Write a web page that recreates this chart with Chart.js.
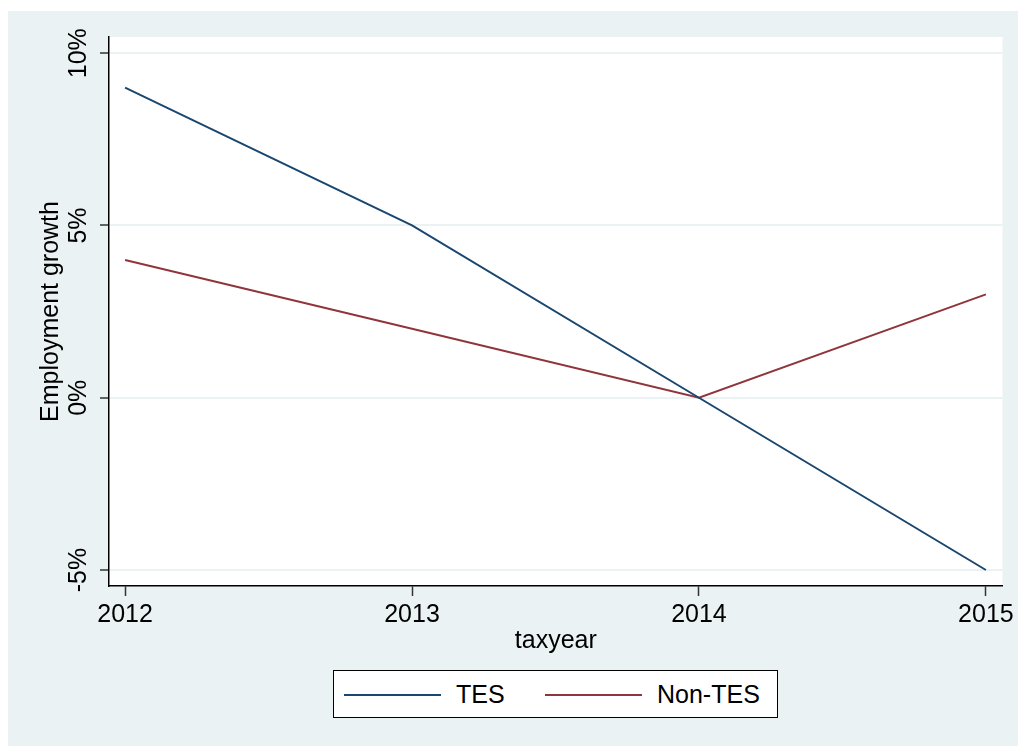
<!DOCTYPE html>
<html>
<head>
<meta charset="utf-8">
<script src="https://cdn.jsdelivr.net/npm/chart.js@4/dist/chart.umd.min.js"></script>
<style>
    body { margin: 0; background: #fff; font-family: "Liberation Sans", Arial, sans-serif; }
    #panel { position: absolute; left: 8px; top: 11px; right: 0; bottom: 0; background: #eaf2f3; }
    #chart { position: absolute; left: 0; top: 0; }
    #legend {
        position: absolute; left: 333px; top: 670px; width: 445px; height: 48px;
        box-sizing: border-box; border: 1px solid #000; background: #fff;
    }
    #legend .swatch { position: absolute; top: 23px; height: 2px; }
    #legend .label { position: absolute; top: 9px; font-size: 25px; line-height: 28px; color: #000; }
</style>
</head>
<body>
<div id="panel"></div>
<canvas id="chart" width="1018" height="746"></canvas>
<div id="legend"></div>
<script>
// Dados
const years = [2012, 2013, 2014, 2015];
const tes = [9, 5, 0, -5];
const nonTes = [4, 2, 0, 3];
const yTicks = [-5, 0, 5, 10];
const seriesNames = ["TES", "Non-TES"];
const seriesColors = ["#1a476f", "#90353b"];

const FONT = '"Liberation Sans", Arial, sans-serif';

// Fundo branco da área do gráfico
const plotBg = {
    id: "plotBg",
    beforeDraw(chart) {
        const { ctx, chartArea: a } = chart;
        ctx.save();
        ctx.fillStyle = "#fff";
        ctx.fillRect(a.left, a.top, a.right - a.left, a.bottom - a.top);
        ctx.restore();
    }
};

const ctx = document.getElementById("chart").getContext("2d");

new Chart(ctx, {
    type: "line",
    data: {
        datasets: [
            {
                label: seriesNames[0],
                data: years.map((y, i) => ({ x: y, y: tes[i] })),
                borderColor: seriesColors[0],
                borderWidth: 2,
                pointRadius: 0,
                tension: 0
            },
            {
                label: seriesNames[1],
                data: years.map((y, i) => ({ x: y, y: nonTes[i] })),
                borderColor: seriesColors[1],
                borderWidth: 2,
                pointRadius: 0,
                tension: 0
            }
        ]
    },
    options: {
        responsive: false,
        animation: false,
        layout: { padding: { left: 8, top: 37, right: 15, bottom: 0 } },
        plugins: {
            legend: { display: false },
            tooltip: { enabled: false }
        },
        scales: {
            x: {
                type: "linear",
                min: 2011.944,
                max: 2015.058,
                afterBuildTicks: s => { s.ticks = years.map(v => ({ value: v })); },
                afterFit: s => { s.height = 160; },
                ticks: {
                    color: "#000",
                    font: { family: FONT, size: 25 },
                    padding: 4,
                    maxRotation: 0,
                    callback: v => String(v)
                },
                grid: { drawOnChartArea: false, tickLength: 10, tickColor: "#333", tickWidth: 1.5 },
                border: { display: true, color: "#000", width: 1.5 },
                title: {
                    display: true,
                    text: "taxyear",
                    color: "#000",
                    font: { family: FONT, size: 25 },
                    padding: { top: 0, bottom: 90 }
                }
            },
            y: {
                min: -5.464,
                max: 10.47,
                afterBuildTicks: s => { s.ticks = yTicks.map(v => ({ value: v })); },
                afterFit: s => { s.width = 101; },
                ticks: {
                    color: "#000",
                    font: { family: FONT, size: 25 },
                    minRotation: 90,
                    maxRotation: 90,
                    crossAlign: "center",
                    padding: -4,
                    callback: v => v + "%"
                },
                grid: { color: "#eaf2f3", lineWidth: 2, tickLength: 9, tickColor: "#333", tickWidth: 1.5 },
                border: { display: true, color: "#000", width: 1.5 },
                title: {
                    display: true,
                    text: "Employment growth",
                    color: "#000",
                    font: { family: FONT, size: 25 },
                    padding: { top: 28, bottom: 0 }
                }
            }
        }
    },
    plugins: [plotBg]
});

// Legenda
const legend = document.getElementById("legend");
const swatchX = [10, 211];
const labelX = [122, 323];
seriesNames.forEach((name, i) => {
    const sw = document.createElement("div");
    sw.className = "swatch";
    sw.style.left = swatchX[i] + "px";
    sw.style.width = "97px";
    sw.style.background = seriesColors[i];
    legend.appendChild(sw);
    const lb = document.createElement("div");
    lb.className = "label";
    lb.style.left = labelX[i] + "px";
    lb.textContent = name;
    legend.appendChild(lb);
});
</script>
</body>
</html>
